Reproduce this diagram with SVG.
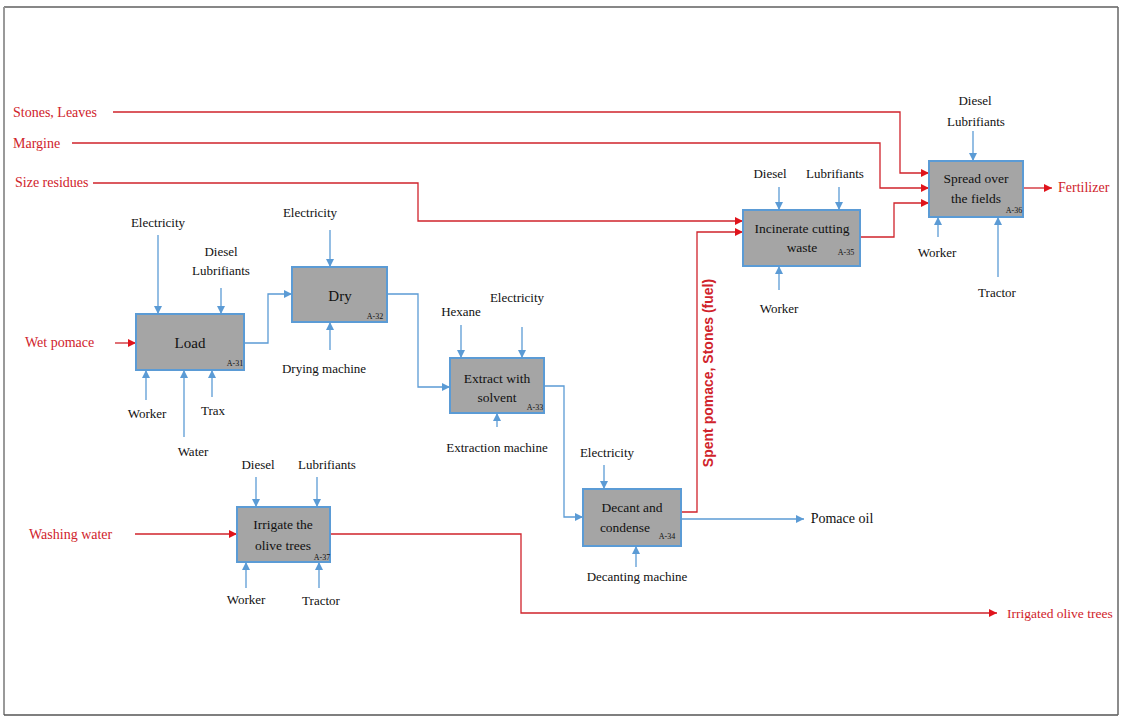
<svg xmlns="http://www.w3.org/2000/svg" width="1121" height="720" viewBox="0 0 1121 720">
<style>
.box{fill:#a5a5a5;stroke:#5b9bd5;stroke-width:2}
.bt{font-family:"Liberation Serif",serif;font-size:13.5px;fill:#111;text-anchor:middle}
.id{font-family:"Liberation Serif",serif;font-size:8px;fill:#111;text-anchor:middle}
.lb{font-family:"Liberation Serif",serif;font-size:13px;fill:#111;text-anchor:middle}
.rl{font-family:"Liberation Serif",serif;font-size:14px;fill:#d0232b}
.bl{fill:none;stroke:#5b9bd5;stroke-width:1.3;marker-end:url(#ab)}
.rd{fill:none;stroke:#d0232b;stroke-width:1.3;marker-end:url(#ar)}
</style>
<defs>
<marker id="ab" markerUnits="userSpaceOnUse" markerWidth="9" markerHeight="8" refX="8" refY="4" orient="auto"><path d="M0,0 L8,4 L0,8 z" fill="#5b9bd5"/></marker>
<marker id="ar" markerUnits="userSpaceOnUse" markerWidth="9" markerHeight="8" refX="8" refY="4" orient="auto"><path d="M0,0 L8,4 L0,8 z" fill="#e0141c"/></marker>
</defs>
<rect x="0" y="0" width="1121" height="720" fill="#fff"/>
<g id="frame">
<line x1="4" y1="7" x2="1118" y2="7" stroke="#111" stroke-width="1.2"/>
<line x1="4" y1="7" x2="4" y2="715" stroke="#999" stroke-width="2"/>
<line x1="4" y1="715" x2="1118" y2="715" stroke="#555" stroke-width="1.5"/>
<line x1="1118" y1="7" x2="1118" y2="715" stroke="#666" stroke-width="1.5"/>
</g>
<g id="connectors">
<path class="rd" d="M113,112 H900 V173 H929"/>
<path class="rd" d="M72,143 H880 V188 H929"/>
<path class="rd" d="M93,183 H418 V221 H743"/>
<path class="rd" d="M681,512 H697 V232 H743"/>
<path class="rd" d="M860,237 H894 V203 H929"/>
<path class="rd" d="M1023,188 H1052"/>
<path class="rd" d="M115,343 H136"/>
<path class="rd" d="M135,534 H237"/>
<path class="rd" d="M330,534 H521 V613 H997"/>
<path class="bl" d="M244,343 H268 V294 H292"/>
<path class="bl" d="M387,294 H418 V387 H450"/>
<path class="bl" d="M544,386 H564 V517 H583"/>
<path class="bl" d="M681,519 H804"/>
<path class="bl" d="M158,235 V314"/>
<path class="bl" d="M221,288 V314"/>
<path class="bl" d="M146,400 V370"/>
<path class="bl" d="M184,437 V370"/>
<path class="bl" d="M212,397 V370"/>
<path class="bl" d="M330,230 V267"/>
<path class="bl" d="M330,350 V322"/>
<path class="bl" d="M461,325 V358"/>
<path class="bl" d="M522,327 V358"/>
<path class="bl" d="M497,427 V413"/>
<path class="bl" d="M604,465 V489"/>
<path class="bl" d="M636,567 V546"/>
<path class="bl" d="M779,187 V210"/>
<path class="bl" d="M839,187 V210"/>
<path class="bl" d="M779,290 V266"/>
<path class="bl" d="M973,131 V161"/>
<path class="bl" d="M938,237 V217"/>
<path class="bl" d="M998,277 V217"/>
<path class="bl" d="M256,477 V507"/>
<path class="bl" d="M317,477 V507"/>
<path class="bl" d="M246,588 V562"/>
<path class="bl" d="M319,588 V562"/>
</g>
<g id="load">
<rect class="box" x="136" y="314" width="108" height="56"/>
<text class="bt" x="190" y="348" style="font-size:15px">Load</text>
<text class="id" x="235" y="366">A-31</text>
</g>
<g id="dry">
<rect class="box" x="292" y="267" width="95" height="55"/>
<text class="bt" x="340" y="301" style="font-size:15px">Dry</text>
<text class="id" x="375" y="319">A-32</text>
</g>
<g id="extract">
<rect class="box" x="450" y="358" width="94" height="55"/>
<text class="bt" x="497" y="383">Extract with</text>
<text class="bt" x="497" y="402">solvent</text>
<text class="id" x="535" y="410">A-33</text>
</g>
<g id="decant">
<rect class="box" x="583" y="489" width="98" height="57"/>
<text class="bt" x="632" y="512">Decant and</text>
<text class="bt" x="625" y="532">condense</text>
<text class="id" x="667" y="539">A-34</text>
</g>
<g id="incinerate">
<rect class="box" x="743" y="210" width="117" height="56"/>
<text class="bt" x="802" y="233">Incinerate cutting</text>
<text class="bt" x="802" y="252">waste</text>
<text class="id" x="846" y="255">A-35</text>
</g>
<g id="spread">
<rect class="box" x="929" y="161" width="94" height="56"/>
<text class="bt" x="976" y="183">Spread over</text>
<text class="bt" x="976" y="203">the fields</text>
<text class="id" x="1014" y="213">A-36</text>
</g>
<g id="irrigate">
<rect class="box" x="237" y="507" width="93" height="55"/>
<text class="bt" x="283" y="529">Irrigate the</text>
<text class="bt" x="283" y="550">olive trees</text>
<text class="id" x="322" y="560">A-37</text>
</g>
<g id="labels">
<text class="rl" x="13" y="117">Stones, Leaves</text>
<text class="rl" x="13" y="148">Margine</text>
<text class="rl" x="15" y="187">Size residues</text>
<text class="rl" x="25" y="347">Wet pomace</text>
<text class="rl" x="29" y="539">Washing water</text>
<text class="rl" x="1058" y="192">Fertilizer</text>
<text class="rl" x="1007" y="618" style="font-size:13.5px">Irrigated olive trees</text>
<text x="713" y="373" transform="rotate(-90 713 373)" style="font-family:'Liberation Sans',sans-serif;font-size:14px;font-weight:bold;fill:#d0232b;text-anchor:middle">Spent pomace, Stones (fuel)</text>
<text class="lb" x="842" y="523" style="font-size:14px">Pomace oil</text>
<text class="lb" x="158" y="227">Electricity</text>
<text class="lb" x="221" y="256">Diesel</text>
<text class="lb" x="221" y="275">Lubrifiants</text>
<text class="lb" x="147" y="418">Worker</text>
<text class="lb" x="193" y="456">Water</text>
<text class="lb" x="213" y="415">Trax</text>
<text class="lb" x="310" y="217">Electricity</text>
<text class="lb" x="324" y="373">Drying machine</text>
<text class="lb" x="461" y="316">Hexane</text>
<text class="lb" x="517" y="302">Electricity</text>
<text class="lb" x="497" y="452">Extraction machine</text>
<text class="lb" x="607" y="457">Electricity</text>
<text class="lb" x="637" y="581">Decanting machine</text>
<text class="lb" x="770" y="178">Diesel</text>
<text class="lb" x="835" y="178">Lubrifiants</text>
<text class="lb" x="779" y="313">Worker</text>
<text class="lb" x="975" y="105">Diesel</text>
<text class="lb" x="976" y="126">Lubrifiants</text>
<text class="lb" x="937" y="257">Worker</text>
<text class="lb" x="997" y="297">Tractor</text>
<text class="lb" x="258" y="469">Diesel</text>
<text class="lb" x="327" y="469">Lubrifiants</text>
<text class="lb" x="246" y="604">Worker</text>
<text class="lb" x="321" y="605">Tractor</text>
</g>
</svg>
